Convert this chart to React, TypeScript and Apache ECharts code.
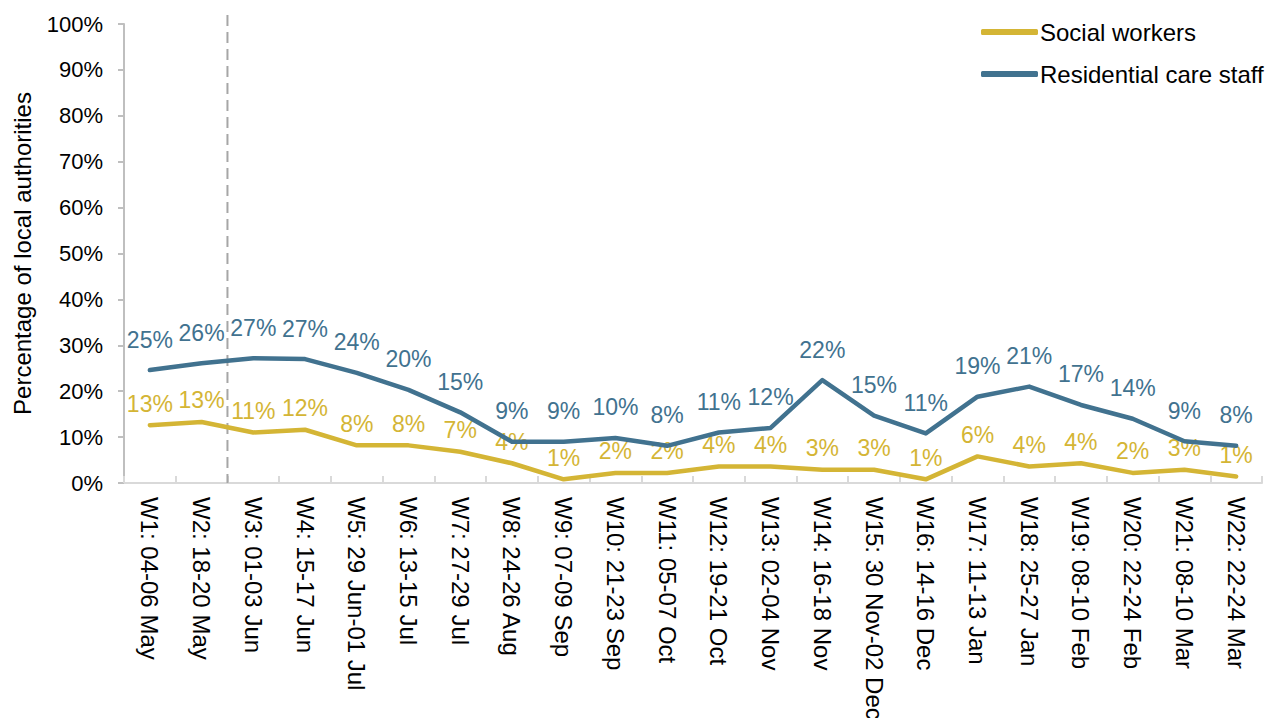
import React, { useEffect, useRef } from "react";
import * as echarts from "echarts";

const categories = [
  "W1: 04-06 May", "W2: 18-20 May", "W3: 01-03 Jun", "W4: 15-17 Jun", "W5: 29 Jun-01 Jul",
  "W6: 13-15 Jul", "W7: 27-29 Jul", "W8: 24-26 Aug", "W9: 07-09 Sep", "W10: 21-23 Sep",
  "W11: 05-07 Oct", "W12: 19-21 Oct", "W13: 02-04 Nov", "W14: 16-18 Nov", "W15: 30 Nov-02 Dec",
  "W16: 14-16 Dec", "W17: 11-13 Jan", "W18: 25-27 Jan", "W19: 08-10 Feb", "W20: 22-24 Feb",
  "W21: 08-10 Mar", "W22: 22-24 Mar",
];

const socialWorkers = [
  12.6, 13.3, 11.0, 11.6, 8.2, 8.2, 6.8, 4.3, 0.8, 2.2, 2.2,
  3.6, 3.6, 2.9, 2.9, 0.8, 5.8, 3.6, 4.3, 2.2, 2.9, 1.4,
];

const residentialStaff = [
  24.6, 26.1, 27.2, 27.0, 24.0, 20.3, 15.4, 9.0, 9.0, 9.8, 8.1,
  11.0, 12.0, 22.4, 14.7, 10.8, 18.8, 21.0, 17.0, 14.0, 9.1, 8.1,
];

const yTicks = [0, 10, 20, 30, 40, 50, 60, 70, 80, 90, 100];

const SOCIAL = "#D4B535";
const RESID = "#41728F";
const FONT = "'Liberation Sans', Arial, sans-serif";

export default function App() {
  const ref = useRef<HTMLDivElement>(null);

  useEffect(() => {
    if (!ref.current) return;
    const chart = echarts.init(ref.current, undefined, { renderer: "svg" });
    const option: any = {
      animation: false,
      backgroundColor: "#ffffff",
      textStyle: { fontFamily: FONT },
      grid: { left: 124, right: 6, top: 24, bottom: 235, containLabel: false, outerBoundsMode: "none" },
      legend: {
        orient: "vertical",
        left: 976,
        top: 15,
        itemWidth: 57,
        itemHeight: 6,
        itemGap: 18,
        icon: "roundRect",
        textStyle: { fontFamily: FONT, fontSize: 24, color: "#000", lineHeight: 24, padding: [0, 0, 0, -3] },
        data: ["Social workers", "Residential care staff"],
      },
      xAxis: {
        type: "category",
        data: categories,
        boundaryGap: true,
        axisLine: { show: true, lineStyle: { color: "#d9d9d9", width: 2 } },
        axisTick: { show: true, inside: true, length: 7, lineStyle: { color: "#d9d9d9", width: 2 } },
        axisLabel: { rotate: -90, interval: 0, margin: 14, fontFamily: FONT, fontSize: 24, color: "#000" },
      },
      yAxis: {
        type: "value",
        min: 0,
        max: 100,
        interval: 10,
        name: "Percentage of local authorities",
        nameLocation: "middle",
        nameGap: 90,
        nameTextStyle: { fontFamily: FONT, fontSize: 24, color: "#000" },
        splitLine: { show: false },
        axisLine: { show: true, lineStyle: { color: "#bfbfbf", width: 2 } },
        axisTick: { show: true, length: 6, lineStyle: { color: "#bfbfbf", width: 2 } },
        axisLabel: {
          margin: 21,
          fontFamily: FONT,
          fontSize: 22,
          color: "#000",
          formatter: (v: number) => (yTicks.includes(v) ? v + "%" : ""),
        },
      },
      series: [
        {
          name: "Social workers",
          type: "line",
          data: socialWorkers,
          color: SOCIAL,
          symbol: "circle",
          symbolSize: 0.1,
          lineStyle: { width: 4.5, color: SOCIAL, cap: "round", join: "round" },
          itemStyle: { color: SOCIAL },
          label: {
            show: true,
            position: "top",
            distance: 10,
            fontFamily: FONT,
            fontSize: 23,
            color: SOCIAL,
            formatter: (p: any) => Math.round(p.value) + "%",
          },
          z: 3,
        },
        {
          name: "Residential care staff",
          type: "line",
          data: residentialStaff,
          color: RESID,
          symbol: "circle",
          symbolSize: 0.1,
          lineStyle: { width: 4.5, color: RESID, cap: "round", join: "round" },
          itemStyle: { color: RESID },
          label: {
            show: true,
            position: "top",
            distance: 19,
            fontFamily: FONT,
            fontSize: 23,
            color: RESID,
            formatter: (p: any) => Math.round(p.value) + "%",
          },
          z: 4,
        },
      ],
    };
    chart.setOption(option);

    const xa = chart.convertToPixel({ xAxisIndex: 0 }, categories[1]) as number;
    const xb = chart.convertToPixel({ xAxisIndex: 0 }, categories[2]) as number;
    const yTop = chart.convertToPixel({ yAxisIndex: 0 }, 100) as number;
    const yBottom = chart.convertToPixel({ yAxisIndex: 0 }, 0) as number;
    const xm = (xa + xb) / 2;
    chart.setOption({
      graphic: [
        {
          type: "line",
          z: 1,
          shape: { x1: xm, y1: yTop - 9, x2: xm, y2: yBottom },
          style: { stroke: "#a6a6a6", lineWidth: 2, lineDash: [11, 6] },
        },
      ],
    });

    return () => chart.dispose();
  }, []);

  return (
    <div
      ref={ref}
      style={{ position: "fixed", left: 0, top: 0, width: 1268, height: 718 }}
    />
  );
}
